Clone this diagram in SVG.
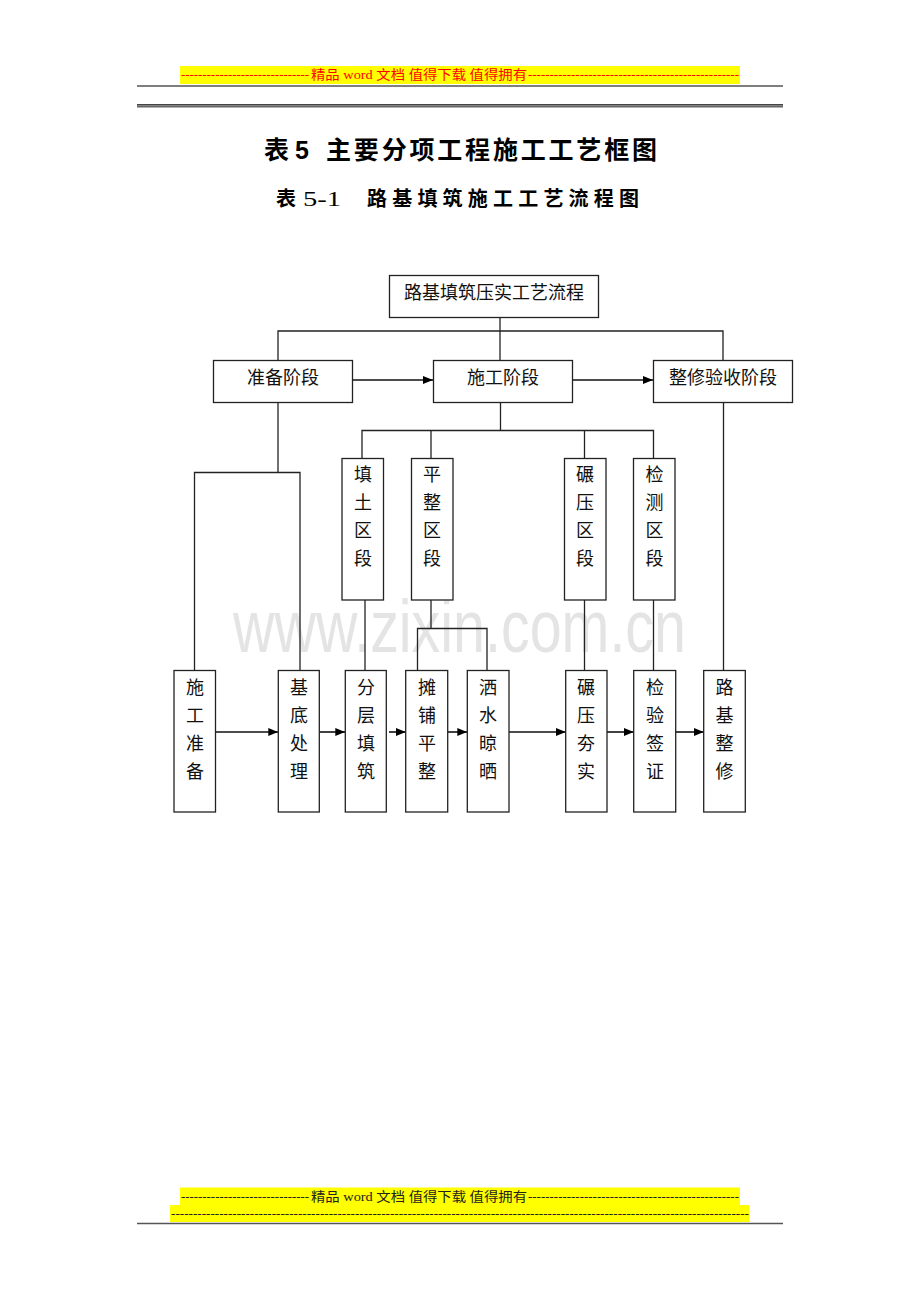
<svg xmlns="http://www.w3.org/2000/svg" width="920" height="1302" viewBox="0 0 920 1302">
<style>
.box{fill:#fff;stroke:#222;stroke-width:1.3}
.ln{fill:none;stroke:#222;stroke-width:1.3}
.ar{fill:none;stroke:#111;stroke-width:1.6;marker-end:url(#ah)}
.t{font-family:"Liberation Serif","Noto Sans CJK SC",serif;font-size:18px;fill:#111;text-anchor:middle}
.hd{font-family:"Liberation Serif","Noto Sans CJK SC",serif;font-size:13px}
.ttl{font-family:"Liberation Serif","Noto Sans CJK SC",serif;font-weight:bold;fill:#000}
</style>
<defs>
<marker id="ah" markerUnits="userSpaceOnUse" markerWidth="10" markerHeight="8" refX="10" refY="4" orient="auto">
<path d="M0,0 L10,4 L0,8 Z" fill="#000"/>
</marker>
</defs>
<rect width="920" height="1302" fill="#fff"/>

<g id="header">
<rect x="180" y="66" width="560" height="18" fill="#ffff00"/>
<text class="hd" x="181" y="79" fill="#ff0000" textLength="128" lengthAdjust="spacingAndGlyphs">------------------------------</text>
<text class="hd" x="311" y="79" fill="#ff0000" textLength="216" lengthAdjust="spacingAndGlyphs">精品 word 文档  值得下载  值得拥有</text>
<text class="hd" x="528" y="79" fill="#ff0000" textLength="211" lengthAdjust="spacingAndGlyphs">-------------------------------------------------</text>
<line x1="137" y1="86" x2="783" y2="86" stroke="#555" stroke-width="1.6"/>
<line x1="137" y1="104.7" x2="783" y2="104.7" stroke="#444" stroke-width="1.4"/>
<line x1="137" y1="106.6" x2="783" y2="106.6" stroke="#666" stroke-width="2"/>
</g>

<g id="title">
<text class="ttl" x="264" y="159" font-size="25">表</text>
<text x="295" y="159" style="font-family:'Liberation Sans',sans-serif;font-weight:bold;font-size:25px" fill="#000">5</text>
<text class="ttl" x="326" y="159" font-size="25" textLength="331" lengthAdjust="spacing">主要分项工程施工工艺框图</text>
<text class="ttl" x="276" y="206" font-size="20">表</text>
<text x="303" y="206" style="font-family:'Liberation Serif',serif;font-size:22px" fill="#000" textLength="38" lengthAdjust="spacingAndGlyphs">5-1</text>
<text class="ttl" x="367" y="206" font-size="20" textLength="272" lengthAdjust="spacing">路基填筑施工工艺流程图</text>
</g>

<text x="233" y="652" font-family="Liberation Sans,Arial,sans-serif" font-size="74" fill="#e4e4e4" textLength="453" lengthAdjust="spacingAndGlyphs">www.zixin.com.cn</text>

<g id="connectors">
<path class="ln" d="M500,317 V360"/>
<path class="ln" d="M278,360 V331 H723 V360"/>
<path class="ar" d="M352,380 H433"/>
<path class="ar" d="M572,380 H653"/>
<path class="ln" d="M278,402 V472.5"/>
<path class="ln" d="M194.5,670.5 V472.5 H300 V670.5"/>
<path class="ln" d="M500.5,402 V430.5"/>
<path class="ln" d="M362,458.5 V430.5 H653.5 V458.5"/>
<path class="ln" d="M431,430.5 V458.5"/>
<path class="ln" d="M584.5,430.5 V458.5"/>
<path class="ln" d="M365,600 V670.5"/>
<path class="ln" d="M431,600 V628.5"/>
<path class="ln" d="M417.5,670.5 V628.5 H487 V670.5"/>
<path class="ln" d="M584.5,600 V670.5"/>
<path class="ln" d="M653.5,600 V670.5"/>
<path class="ln" d="M723.5,402 V670.5"/>
<path class="ar" d="M216,732 H278.3"/>
<path class="ar" d="M319.3,732 H345.3"/>
<path class="ar" d="M389,732 H405.7"/>
<path class="ar" d="M447.7,732 H467.3"/>
<path class="ar" d="M509,732 H565.7"/>
<path class="ar" d="M607,732 H633.7"/>
<path class="ar" d="M675.7,732 H703.7"/>
</g>

<g id="n-top"><rect class="box" x="389.5" y="275.5" width="209" height="42"/><text class="t" x="494" y="299" font-size="18.5">路基填筑压实工艺流程</text></g>
<g id="n-prep"><rect class="box" x="213.5" y="360.5" width="139" height="42"/><text class="t" x="283" y="384">准备阶段</text></g>
<g id="n-cons"><rect class="box" x="433.5" y="360.5" width="139" height="42"/><text class="t" x="503" y="384">施工阶段</text></g>
<g id="n-fin"><rect class="box" x="653.5" y="360.5" width="139" height="42"/><text class="t" x="723" y="384">整修验收阶段</text></g>

<g id="n-tt"><rect class="box" x="342" y="458.5" width="41.5" height="141.5"/><text class="t"><tspan x="363" y="481">填</tspan><tspan x="363" y="509">土</tspan><tspan x="363" y="537">区</tspan><tspan x="363" y="565">段</tspan></text></g>
<g id="n-pz"><rect class="box" x="411.5" y="458.5" width="41.5" height="141.5"/><text class="t"><tspan x="432" y="481">平</tspan><tspan x="432" y="509">整</tspan><tspan x="432" y="537">区</tspan><tspan x="432" y="565">段</tspan></text></g>
<g id="n-ny"><rect class="box" x="564.5" y="458.5" width="41.5" height="141.5"/><text class="t"><tspan x="585" y="481">碾</tspan><tspan x="585" y="509">压</tspan><tspan x="585" y="537">区</tspan><tspan x="585" y="565">段</tspan></text></g>
<g id="n-jc"><rect class="box" x="633.5" y="458.5" width="41.5" height="141.5"/><text class="t"><tspan x="654.5" y="481">检</tspan><tspan x="654.5" y="509">测</tspan><tspan x="654.5" y="537">区</tspan><tspan x="654.5" y="565">段</tspan></text></g>

<g id="n-sgzb"><rect class="box" x="174" y="670.5" width="41.5" height="141.5"/><text class="t"><tspan x="195" y="694">施</tspan><tspan x="195" y="722">工</tspan><tspan x="195" y="750">准</tspan><tspan x="195" y="778">备</tspan></text></g>
<g id="n-jdcl"><rect class="box" x="278.3" y="670.5" width="41" height="141.5"/><text class="t"><tspan x="299" y="694">基</tspan><tspan x="299" y="722">底</tspan><tspan x="299" y="750">处</tspan><tspan x="299" y="778">理</tspan></text></g>
<g id="n-fctz"><rect class="box" x="345.3" y="670.5" width="41" height="141.5"/><text class="t"><tspan x="366" y="694">分</tspan><tspan x="366" y="722">层</tspan><tspan x="366" y="750">填</tspan><tspan x="366" y="778">筑</tspan></text></g>
<g id="n-tppz"><rect class="box" x="405.7" y="670.5" width="42" height="141.5"/><text class="t"><tspan x="427" y="694">摊</tspan><tspan x="427" y="722">铺</tspan><tspan x="427" y="750">平</tspan><tspan x="427" y="778">整</tspan></text></g>
<g id="n-ssls"><rect class="box" x="467.3" y="670.5" width="41.7" height="141.5"/><text class="t"><tspan x="488" y="694">洒</tspan><tspan x="488" y="722">水</tspan><tspan x="488" y="750">晾</tspan><tspan x="488" y="778">晒</tspan></text></g>
<g id="n-nyhs"><rect class="box" x="565.7" y="670.5" width="41.3" height="141.5"/><text class="t"><tspan x="586" y="694">碾</tspan><tspan x="586" y="722">压</tspan><tspan x="586" y="750">夯</tspan><tspan x="586" y="778">实</tspan></text></g>
<g id="n-jyqz"><rect class="box" x="633.7" y="670.5" width="42" height="141.5"/><text class="t"><tspan x="655" y="694">检</tspan><tspan x="655" y="722">验</tspan><tspan x="655" y="750">签</tspan><tspan x="655" y="778">证</tspan></text></g>
<g id="n-ljzx"><rect class="box" x="703.7" y="670.5" width="41.6" height="141.5"/><text class="t"><tspan x="724.5" y="694">路</tspan><tspan x="724.5" y="722">基</tspan><tspan x="724.5" y="750">整</tspan><tspan x="724.5" y="778">修</tspan></text></g>

<g id="footer">
<rect x="180" y="1187.5" width="560" height="18" fill="#ffff00"/>
<rect x="170" y="1205" width="579.5" height="17" fill="#ffff00"/>
<text class="hd" x="181" y="1201" fill="#222" textLength="128" lengthAdjust="spacingAndGlyphs">------------------------------</text>
<text class="hd" x="311" y="1201" fill="#222" textLength="216" lengthAdjust="spacingAndGlyphs">精品 word 文档  值得下载  值得拥有</text>
<text class="hd" x="528" y="1201" fill="#222" textLength="211" lengthAdjust="spacingAndGlyphs">-------------------------------------------------</text>
<text class="hd" x="171" y="1218" fill="#222" textLength="578" lengthAdjust="spacingAndGlyphs">------------------------------------------------------------------------------------------------------------------------------------</text>
<line x1="137" y1="1223.5" x2="783" y2="1223.5" stroke="#555" stroke-width="1.6"/>
</g>
</svg>
